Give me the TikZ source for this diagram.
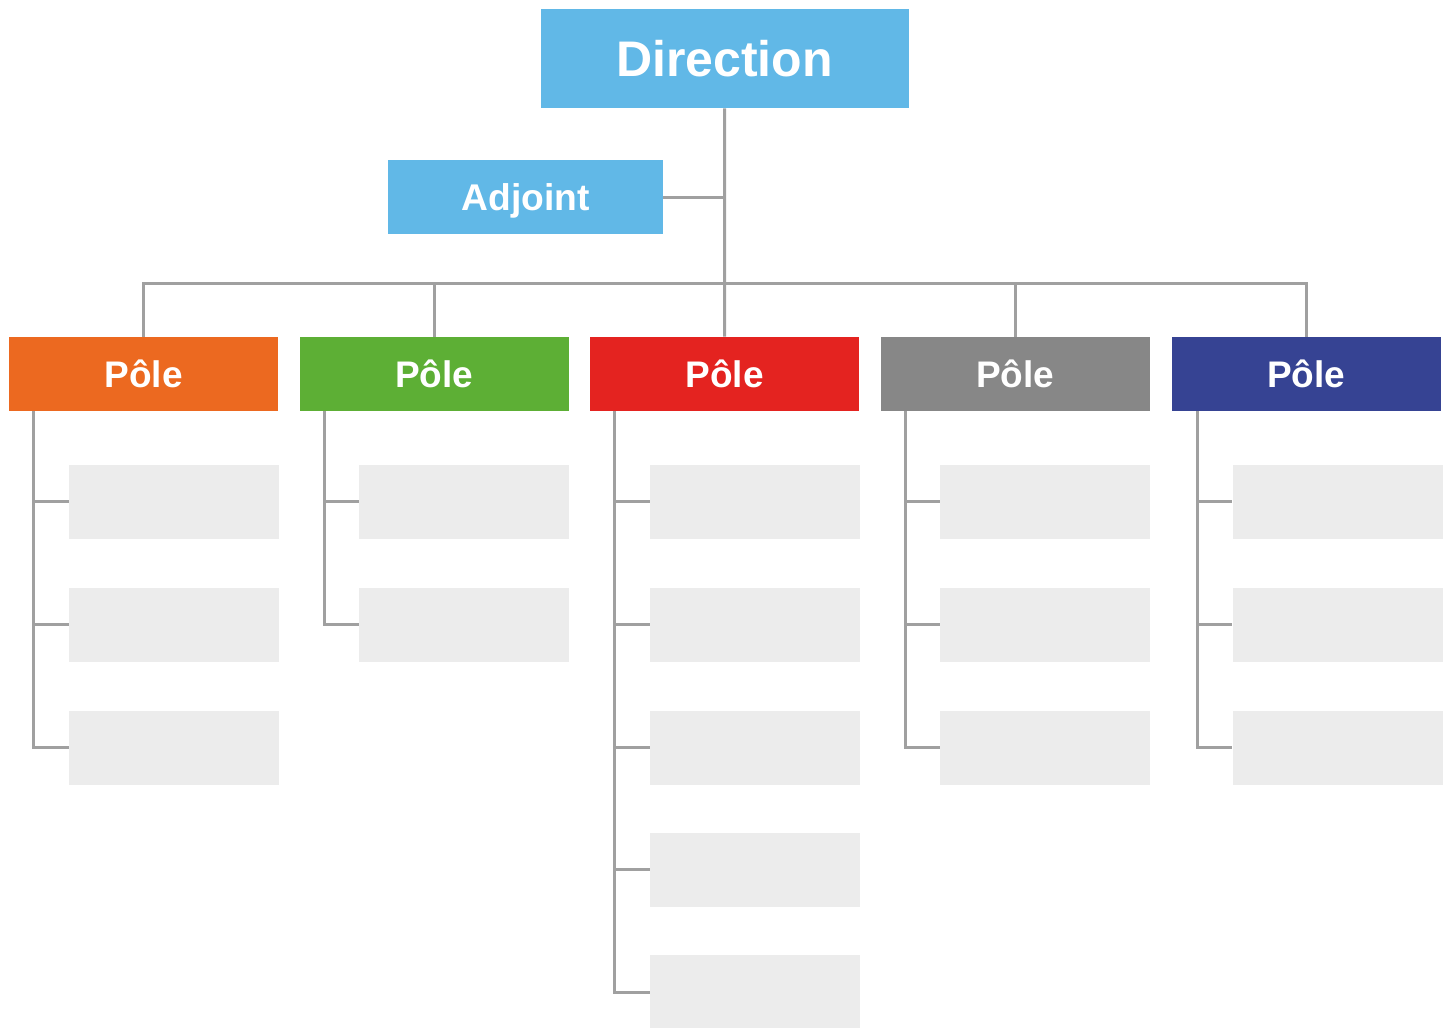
\documentclass[tikz,border=0pt]{standalone}
\usepackage{fontspec}
\setmainfont{Liberation Sans}
\usetikzlibrary{positioning}

\definecolor{headblue}{RGB}{97,184,231}
\definecolor{poleorange}{RGB}{236,105,32}
\definecolor{polegreen}{RGB}{93,175,53}
\definecolor{polered}{RGB}{228,35,32}
\definecolor{polegray}{RGB}{135,135,135}
\definecolor{polenavy}{RGB}{54,67,147}
\definecolor{subgray}{RGB}{236,236,236}
\definecolor{linegray}{RGB}{160,160,160}

\tikzstyle{head} = [rectangle, text centered, fill=headblue, text=white, font=\bfseries, inner sep=0pt]
\tikzstyle{pole} = [rectangle, text centered, text=white, minimum width=134.5pt, minimum height=37pt, inner sep=0pt, font=\fontsize{18.5}{22}\selectfont\bfseries]
\tikzstyle{sub} = [rectangle, fill=subgray, minimum width=105pt, minimum height=37pt, inner sep=0pt]
\tikzstyle{link} = [line width=1.5pt, linegray]

\begin{document}
\begin{tikzpicture}[x=0.5pt, y=-0.5pt]

    \useasboundingbox (0,0) rectangle (1453,1028);

    \node (direction) [head, minimum width=184pt, minimum height=49.5pt, font=\fontsize{25}{30}\selectfont\bfseries] at (724.5,58.5) {Direction};
    \node (adjoint) [head, minimum width=137.5pt, minimum height=37pt, text height=13.3pt, text depth=0pt, font=\fontsize{18.6}{22}\selectfont\bfseries] at (525.5,197) {Adjoint};

    \node (pole1) [pole, fill=poleorange] at (143.5,374) {Pôle};
    \node (pole2) [pole, fill=polegreen] at (434.1,374) {Pôle};
    \node (pole3) [pole, fill=polered] at (724.7,374) {Pôle};
    \node (pole4) [pole, fill=polegray] at (1015.3,374) {Pôle};
    \node (pole5) [pole, fill=polenavy] at (1306.2,374) {Pôle};

    \coordinate (bus) at (724.7,283);

    \draw [link] (direction.south) -- (pole3.north);
    \draw [link] (adjoint.east) -- (adjoint.east -| direction.south);
    \draw [link] (pole1.north) |- (bus) -| (pole5.north);
    \draw [link] (pole2.north) -- (pole2.north |- bus);
    \draw [link] (pole4.north) -- (pole4.north |- bus);

    % first pole
    \node (sub11) [sub] at (174.0,501.5) {};
    \node (sub12) [sub] at (174.0,624.5) {};
    \node (sub13) [sub] at (174.0,747.5) {};
    \draw [link] ([xshift=12.5pt]pole1.south west) |- (sub11.west);
    \draw [link] ([xshift=12.5pt]pole1.south west) |- (sub12.west);
    \draw [link] ([xshift=12.5pt]pole1.south west) |- (sub13.west);

    % second pole
    \node (sub21) [sub] at (464.0,501.5) {};
    \node (sub22) [sub] at (464.0,624.5) {};
    \draw [link] ([xshift=12.5pt]pole2.south west) |- (sub21.west);
    \draw [link] ([xshift=12.5pt]pole2.south west) |- (sub22.west);

    % third pole
    \node (sub31) [sub] at (755.2,501.5) {};
    \node (sub32) [sub] at (755.2,624.5) {};
    \node (sub33) [sub] at (755.2,747.5) {};
    \node (sub34) [sub] at (755.2,869.5) {};
    \node (sub35) [sub] at (755.2,992.0) {};
    \draw [link] ([xshift=12.5pt]pole3.south west) |- (sub31.west);
    \draw [link] ([xshift=12.5pt]pole3.south west) |- (sub32.west);
    \draw [link] ([xshift=12.5pt]pole3.south west) |- (sub33.west);
    \draw [link] ([xshift=12.5pt]pole3.south west) |- (sub34.west);
    \draw [link] ([xshift=12.5pt]pole3.south west) |- (sub35.west);

    % fourth pole
    \node (sub41) [sub] at (1045.3,501.5) {};
    \node (sub42) [sub] at (1045.3,624.5) {};
    \node (sub43) [sub] at (1045.3,747.5) {};
    \draw [link] ([xshift=12.5pt]pole4.south west) |- (sub41.west);
    \draw [link] ([xshift=12.5pt]pole4.south west) |- (sub42.west);
    \draw [link] ([xshift=12.5pt]pole4.south west) |- (sub43.west);

    % fifth pole
    \node (sub51) [sub] at (1337.5,501.5) {};
    \node (sub52) [sub] at (1337.5,624.5) {};
    \node (sub53) [sub] at (1337.5,747.5) {};
    \draw [link] ([xshift=13pt]pole5.south west) |- (sub51.west);
    \draw [link] ([xshift=13pt]pole5.south west) |- (sub52.west);
    \draw [link] ([xshift=13pt]pole5.south west) |- (sub53.west);

\end{tikzpicture}
\end{document}
